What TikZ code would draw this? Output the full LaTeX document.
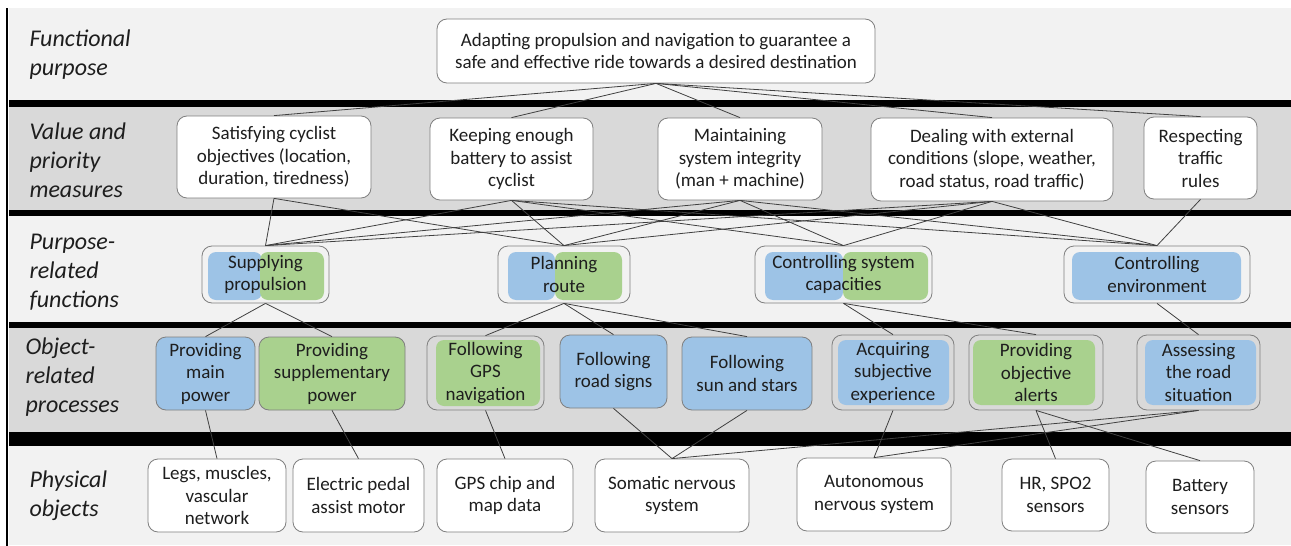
\documentclass[tikz,border=0pt]{standalone}
\usepackage{fontspec}
\setmainfont{Carlito}
\definecolor{bandLight}{RGB}{242, 242, 242}
\definecolor{bandDark}{RGB}{217, 217, 217}
\definecolor{boxBorder}{RGB}{127, 127, 127}
\definecolor{humanBlue}{RGB}{157, 195, 230}
\definecolor{machineGreen}{RGB}{169, 209, 142}
\definecolor{linkGray}{RGB}{64, 64, 64}
\definecolor{textDark}{RGB}{30, 30, 30}

\begin{document}
\begin{tikzpicture}[x=1pt, y=-1pt,
        box/.style={rectangle, rounded corners=10pt, draw=boxBorder, line width=0.8pt,
                    align=center, inner sep=0pt, text=textDark,
                    font=\fontsize{19}{22.5}\selectfont},
        whitebox/.style={box, fill=white},
        bluebox/.style={box, fill=humanBlue},
        greenbox/.style={box, fill=machineGreen},
        level/.style={anchor=west, align=left, text=textDark,
                      font=\fontsize{24}{29}\selectfont\itshape},
        link/.style={draw=linkGray, line width=0.8pt}]
        \useasboundingbox (0,0) rectangle (1291,546);

        % Bands and separators
        \foreach \ya/\yb/\bandcol in {8/100/bandLight, 107/210/bandDark,
            216/322/bandLight, 328/432/bandDark, 446/545/bandLight} {
            \fill[\bandcol] (9,\ya) rectangle (1291,\yb);
        }
        \foreach \ya/\yb in {100/107, 210/216, 322/328, 432/446} {
            \fill[black] (9,\ya) rectangle (1291,\yb);
        }
        \draw[line width=2.5pt] (7,8) -- (7,546);

        % Level labels
        \node[level] (lvFP) at (26,55) {Functional\\purpose};
        \node[level] (lvVP) at (26,160) {Value and\\priority\\measures};
        \node[level] (lvPF) at (26,272) {Purpose-\\related\\functions};
        \node[level] (lvOP) at (22,377) {Object-\\related\\processes};
        \node[level] (lvPO) at (26,496) {Physical\\objects};

        % White boxes
        \foreach \nm/\cx/\cy/\bw/\bh/\lbl in {
            fp/656/51/438/64/{Adapting propulsion and navigation to guarantee a\\safe and effective ride towards a desired destination},
            v1/274/157/194/82/{Satisfying cyclist\\objectives (location,\\duration, tiredness)},
            v2/511.5/159/163/82/{Keeping enough\\battery to assist\\cyclist},
            v3/740/159/164/82/{Maintaining\\system integrity\\(man + machine)},
            v4/992/159.5/242/83/{Dealing with external\\conditions (slope, weather,\\road status, road traffic)},
            v5/1200.5/158/113/82/{Respecting\\traffic\\rules},
            l1/217/495.5/138/73/{Legs, muscles,\\vascular\\network},
            l2/358.5/495.5/131/73/{Electric pedal\\assist motor},
            l3/505/495.5/136/73/{GPS chip and\\map data},
            l4/672/495.5/154/73/{Somatic nervous\\system},
            l5/874/494.5/154/73/{Autonomous\\nervous system},
            l6/1055.5/495/107/72/{HR, SPO2\\sensors},
            l7/1200/497/108/72/{Battery\\sensors}%
        } {
            \node[whitebox, minimum width=\bw, minimum height=\bh] (\nm) at (\cx,\cy) {\lbl};
        }

        % Colour parts inside the framed boxes
        \foreach \xa/\ya/\xb/\yb/\partcol in {
            208/252/262/300/humanBlue, 260/252/324/300/machineGreen,
            508/252/555/300/humanBlue, 555/252/622/300/machineGreen,
            765/252/843/300/humanBlue, 843/252/928/300/machineGreen,
            1072/252/1241/300/humanBlue,
            436/340/540/406/machineGreen, 838/340/949/405/humanBlue,
            973/340/1095/405/machineGreen, 1145/340/1256/405/humanBlue%
        } {
            \fill[\partcol, rounded corners=8pt] (\xa,\ya) rectangle (\xb,\yb);
        }

        % Framed boxes
        \foreach \nm/\cx/\cy/\bw/\bh/\lbl in {
            p1/265.5/274.5/127/57/{Supplying\\propulsion},
            p2/564/274.5/132/57/{Planning\\route},
            p3/843.5/274.5/177/57/{Controlling system\\capacities},
            p4/1157/274.5/186/57/{Controlling\\environment},
            o3/485.5/373/117/74/{Following\\GPS\\navigation},
            o6/893/372.5/122/75/{Acquiring\\subjective\\experience},
            o7/1036/372.5/134/75/{Providing\\objective\\alerts},
            o8/1198.5/372.5/123/75/{Assessing\\the road\\situation}%
        } {
            \node[box, minimum width=\bw, minimum height=\bh] (\nm) at (\cx,\cy) {\lbl};
        }

        % Plain coloured boxes
        \node[bluebox, minimum width=99, minimum height=73] (o1) at (205.5,373.5) {Providing\\main\\power};
        \node[greenbox, minimum width=146, minimum height=73] (o2) at (332,373.5) {Providing\\supplementary\\power};
        \node[bluebox, minimum width=107, minimum height=73] (o4) at (613.5,371.5) {Following\\road signs};
        \node[bluebox, minimum width=130, minimum height=73] (o5) at (747,373.5) {Following\\sun and stars};

        % Links
        \foreach \src/\dst in {fp/v1, fp/v2, fp/v3, fp/v4, fp/v5,
            v1/p1, v1/p2, v2/p1, v2/p2, v2/p3, v2/p4,
            v3/p1, v3/p2, v3/p3, v3/p4, v4/p1, v4/p2, v4/p3, v4/p4, v5/p4,
            p1/o1, p1/o2, p2/o3, p2/o4, p2/o5, p3/o6, p3/o7, p4/o8,
            o1/l1, o2/l2, o3/l3, o4/l4, o5/l4, o6/l5, o7/l6, o7/l7, o8/l4, o8/l5} {
            \draw[link] (\src.south) -- (\dst.north);
        }
    \end{tikzpicture}
\end{document}
